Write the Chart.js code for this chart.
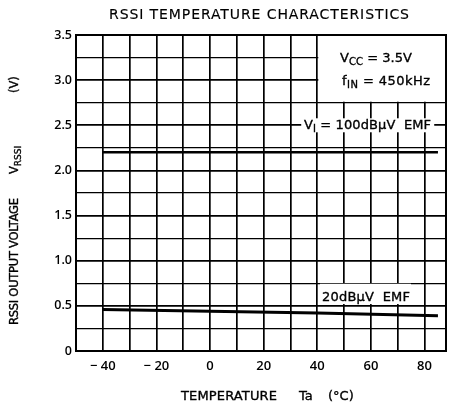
<!DOCTYPE html>
<html>
<head>
<meta charset="utf-8">
<script src="https://cdn.jsdelivr.net/npm/chart.js@4"></script>
<style>
  html, body { margin: 0; padding: 0; background: #fff; }
  canvas { display: block; }
</style>
</head>
<body>
<canvas id="rssiChart" width="456" height="408"></canvas>
<script>
// curve data
const temps100 = [-40, 85];
const vrssi100 = [2.2, 2.2];
const temps20 = [-40, 0, 40, 85];
const vrssi20 = [0.46, 0.44, 0.42, 0.39];

// tick labels
const xTickLabels = [-40, -20, 0, 20, 40, 60, 80];
const yTickLabels = [0, 0.5, 1.0, 1.5, 2.0, 2.5, 3.0, 3.5];
const xGridTicks = [-50, -40, -30, -20, -10, 0, 10, 20, 30, 40, 50, 60, 70, 80];

const TICK_FONT = "'Open Sans', 'DejaVu Sans', sans-serif";
const TEXT_FONT = "'DejaVu Sans', 'Open Sans', sans-serif";

function toPoints(xs, ys) {
  return xs.map((x, i) => ({ x, y: ys[i] }));
}

// draws a list of text runs (some subscripted); if width is given they are spread to span it
function drawRuns(ctx, runs, x, y, size, width, bold = 0.35) {
  const subSize = Math.round(size * 0.78);
  const font = (s) => `${s}px ${TEXT_FONT}`;
  ctx.letterSpacing = "0px";
  let natural = 0, chars = 0;
  runs.forEach((r) => {
    ctx.font = font(r.sub ? subSize : size);
    natural += ctx.measureText(r.t).width;
    chars += r.t.length;
  });
  const ls = width ? (width - natural) / Math.max(1, chars - 1) : 0;
  ctx.letterSpacing = `${ls}px`;
  ctx.lineWidth = bold;
  ctx.strokeStyle = ctx.fillStyle;
  runs.forEach((r) => {
    ctx.font = font(r.sub ? subSize : size);
    const yy = r.sub ? y + size * 0.28 : y;
    ctx.fillText(r.t, x, yy);
    if (bold > 0) ctx.strokeText(r.t, x, yy);
    x += ctx.measureText(r.t).width;
  });
  ctx.letterSpacing = "0px";
}

const annotations = {
  id: "annotations",
  beforeDatasetsDraw(chart) {
    const { ctx } = chart;
    const xs = chart.scales.x;
    const ys = chart.scales.y;
    const area = chart.chartArea;
    ctx.save();
    ctx.fillStyle = "#fff";

    // condition box in upper right
    const bx = xs.getPixelForValue(40) + 1;
    const by = ys.getPixelForValue(2.75) - 1;
    ctx.fillRect(bx, area.top + 1, area.right - bx - 1, by - area.top - 1);

    // label backgrounds
    const y25 = ys.getPixelForValue(2.5);
    ctx.fillRect(xs.getPixelForValue(34), y25 - 7, 133, 14);
    ctx.fillRect(xs.getPixelForValue(41), ys.getPixelForValue(0.745), 91,
      ys.getPixelForValue(0.52) - ys.getPixelForValue(0.745));

    ctx.fillStyle = "#000";
    ctx.textBaseline = "middle";
    ctx.textAlign = "left";
    drawRuns(ctx, [{ t: "V" }, { t: "CC", sub: true }, { t: " = 3.5V" }], 340, 59, 13, 72);
    drawRuns(ctx, [{ t: "f" }, { t: "IN", sub: true }, { t: " = 450kHz" }], 342, 82, 13, 88);
    drawRuns(ctx, [{ t: "V" }, { t: "I", sub: true }, { t: " = 100dB\u03bcV  EMF" }], 304, y25, 13, 127);
    drawRuns(ctx, [{ t: "20dB\u03bcV  EMF" }], 322, ys.getPixelForValue(0.59), 13, 88);
    ctx.restore();
  },
  afterDraw(chart) {
    const { ctx } = chart;
    const area = chart.chartArea;
    ctx.save();
    ctx.strokeStyle = "#000";
    ctx.lineWidth = 2;
    ctx.strokeRect(area.left, area.top, area.right - area.left, area.bottom - area.top);

    // titles
    ctx.fillStyle = "#000";
    ctx.textBaseline = "middle";
    ctx.textAlign = "left";
    drawRuns(ctx, [{ t: "RSSI TEMPERATURE CHARACTERISTICS" }], 109, 15, 14, 300, 0.15);

    drawRuns(ctx, [{ t: "TEMPERATURE" }], 181, 397, 13, 96);
    drawRuns(ctx, [{ t: "Ta" }], 299, 397, 13);
    drawRuns(ctx, [{ t: "(\u00b0C)" }], 328, 397, 13);

    // rotated y-axis title, pieces placed along the axis
    ctx.translate(15, 0);
    ctx.rotate(-Math.PI / 2);
    drawRuns(ctx, [{ t: "RSSI OUTPUT VOLTAGE" }], -325, 0, 11.5, 127);
    drawRuns(ctx, [{ t: "V" }, { t: "RSSI", sub: true }], -174, 0, 11.5);
    drawRuns(ctx, [{ t: "(V)" }], -93, 0, 11.5);
    ctx.restore();
  },
};

new Chart(document.getElementById("rssiChart"), {
  type: "scatter",
  data: {
    datasets: [
      {
        label: "100dBuV EMF",
        data: toPoints(temps100, vrssi100),
        showLine: true,
        borderColor: "#000",
        borderWidth: 2.5,
        pointRadius: 0,
        fill: false,
      },
      {
        label: "20dBuV EMF",
        data: toPoints(temps20, vrssi20),
        showLine: true,
        borderColor: "#000",
        borderWidth: 3,
        pointRadius: 0,
        fill: false,
      },
    ],
  },
  options: {
    responsive: false,
    animation: false,
    layout: { padding: { top: 35, right: 10, left: 0, bottom: 0 } },
    plugins: {
      legend: { display: false },
      tooltip: { enabled: false },
    },
    scales: {
      x: {
        type: "linear",
        min: -50,
        max: 88,
        afterBuildTicks: (scale) => {
          scale.ticks = xGridTicks.map((v) => ({ value: v }));
        },
        afterFit: (scale) => {
          scale.height = 57;
        },
        grid: { color: "#000", lineWidth: 1.7, drawTicks: false },
        border: { color: "#000", width: 2 },
        ticks: {
          autoSkip: false,
          maxRotation: 0,
          padding: 7,
          color: "#000",
          font: { family: TICK_FONT, size: 13, weight: 600 },
          callback: (v) => {
            if (!xTickLabels.includes(v)) return "";
            return v < 0 ? "\u2212 " + Math.abs(v) : String(v);
          },
        },
      },
      y: {
        min: 0,
        max: 3.5,
        afterBuildTicks: (scale) => {
          const t = [];
          for (let v = 0; v <= 3.5001; v += 0.25) t.push({ value: Math.round(v * 100) / 100 });
          scale.ticks = t;
        },
        afterFit: (scale) => {
          scale.width = 76;
        },
        grid: {
          color: "#000",
          lineWidth: (c) => (c.tick && yTickLabels.includes(c.tick.value) ? 1.7 : 1.2),
          drawTicks: false,
        },
        border: { color: "#000", width: 2 },
        ticks: {
          autoSkip: false,
          padding: 4,
          color: "#000",
          font: { family: TICK_FONT, size: 12.5, weight: 600 },
          callback: (v) => {
            if (!yTickLabels.includes(v)) return "";
            return v === 0 ? "0" : v.toFixed(1);
          },
        },
      },
    },
  },
  plugins: [annotations],
});
</script>
</body>
</html>
